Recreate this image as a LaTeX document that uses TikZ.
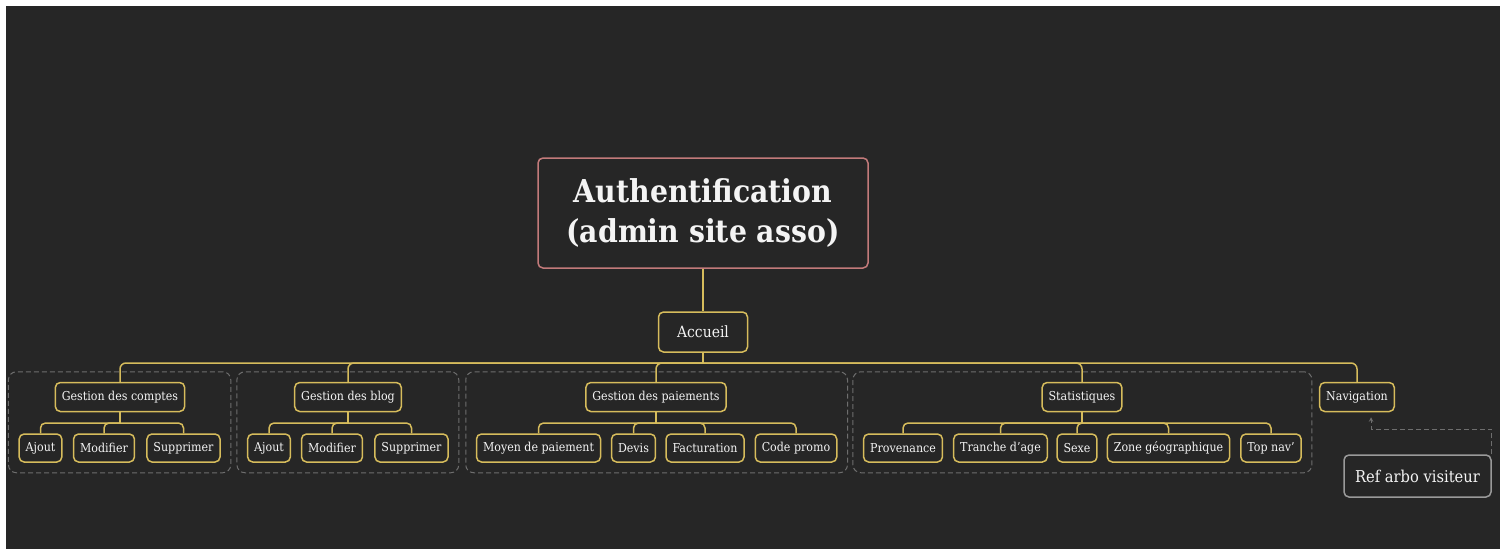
\documentclass[tikz,border=0pt]{standalone}
\usepackage{fontspec}
\setmainfont[FakeStretch=0.9]{DejaVu Serif}
\usetikzlibrary{fit,positioning}

\definecolor{fond}{HTML}{262626}
\definecolor{or}{HTML}{D6BC5C}
\definecolor{rose}{HTML}{C27A7A}
\definecolor{gris}{HTML}{6E6E6E}
\definecolor{grisclair}{HTML}{9A9A9A}
\definecolor{texte}{HTML}{F4F4F4}

\tikzset{
	racine/.style={draw=rose, line width=1.5pt, rounded corners=5pt, fill=fond, text=texte,
		font=\fontsize{31.5}{40}\selectfont\bfseries, align=center, minimum width=330pt, minimum height=110pt},
	accueil/.style={draw=or, line width=1.5pt, rounded corners=5pt, fill=fond, text=texte,
		font=\fontsize{15.5}{18}\selectfont, minimum width=89pt, minimum height=40pt},
	rubrique/.style={draw=or, line width=1.5pt, rounded corners=5pt, fill=fond, text=texte,
		font=\fontsize{12.3}{14}\selectfont, inner xsep=6.5pt, minimum height=29pt},
	page/.style={rubrique, minimum height=28pt},
	groupe/.style={draw=gris, dash pattern=on 5pt off 3pt, line width=1pt, rounded corners=8pt, inner sep=10pt},
	lien/.style={draw=or, line width=1.5pt},
	refbox/.style={draw=grisclair, line width=1.5pt, rounded corners=5pt, fill=fond, text=texte,
		font=\fontsize{16.3}{19}\selectfont, minimum width=147pt, minimum height=42pt},
	renvoi/.style={draw=gris, dash pattern=on 5pt off 3pt, line width=1pt, -{stealth}}
}

\begin{document}
\begin{tikzpicture}[x=1pt, y=-1pt]
% Fond
\useasboundingbox (0,0) rectangle (1506,549);
\fill[white] (0,0) rectangle (1506,549);
\fill[fond] (6,6) rectangle (1500,549);

% Racine
\node[racine] (auth) at (703,213) {Authentification\\(admin site asso)};
\node[accueil] (acc) at (703,332) {Accueil};

% Rubriques
\node[rubrique] (gc) at (120,397) {Gestion des comptes};
\node[rubrique] (gb) at (348,397) {Gestion des blog};
\node[rubrique] (gp) at (656,397) {Gestion des paiements};
\node[rubrique] (st) at (1082,397) {Statistiques};
\node[rubrique] (nav) at (1357,397) {Navigation};

% Pages
\node[page] (gc1) at (40.5,448) {Ajout};
\node[page] (gc2) at (104,448) {Modifier};
\node[page] (gc3) at (183.5,448) {Supprimer};
\node[page] (gb1) at (269,448) {Ajout};
\node[page] (gb2) at (332,448) {Modifier};
\node[page] (gb3) at (411.5,448) {Supprimer};
\node[page] (gp1) at (538.5,448) {Moyen de paiement};
\node[page] (gp2) at (633.5,448) {Devis};
\node[page] (gp3) at (705,448) {Facturation};
\node[page] (gp4) at (796,448) {Code promo};
\node[page] (st1) at (903,448) {Provenance};
\node[page] (st2) at (1000.5,448) {Tranche d'age};
\node[page] (st3) at (1077,448) {Sexe};
\node[page] (st4) at (1168.5,448) {Zone géographique};
\node[page] (st5) at (1271,448) {Top nav'};

% Cadres
\node[groupe, fit=(gc)(gc1)(gc3)] (cgc) {};
\node[groupe, fit=(gb)(gb1)(gb3)] (cgb) {};
\node[groupe, fit=(gp)(gp1)(gp4)] (cgp) {};
\node[groupe, fit=(st)(st1)(st5)] (cst) {};

% Liens
\coordinate (bus) at (0,363);
\coordinate (sbus) at (0,423);
\draw[lien] (auth) -- (acc);
\draw[lien] (acc.south) -- (acc.south |- bus);
\foreach \r in {gc,gb,gp,st,nav}
	\draw[lien, rounded corners=6pt] (acc.south |- bus) -| (\r.north);
\foreach \r in {gc,gb,gp,st}
	\draw[lien] (\r.south) -- (\r.south |- sbus);
\foreach \r/\p in {gc/gc1,gc/gc2,gc/gc3,gb/gb1,gb/gb2,gb/gb3,gp/gp1,gp/gp2,gp/gp3,gp/gp4,st/st1,st/st2,st/st3,st/st4,st/st5}
	\draw[lien, rounded corners=5pt] (\r.south |- sbus) -| (\p.north);

% Renvoi
\node[refbox] (ref) at (1417.5,476) {Ref arbo visiteur};
\coordinate (coude) at ([yshift=25pt]ref.north east);
\draw[renvoi] (ref.north east) -- (coude) -| ([xshift=14pt, yshift=-5pt]nav.south);
\end{tikzpicture}
\end{document}
